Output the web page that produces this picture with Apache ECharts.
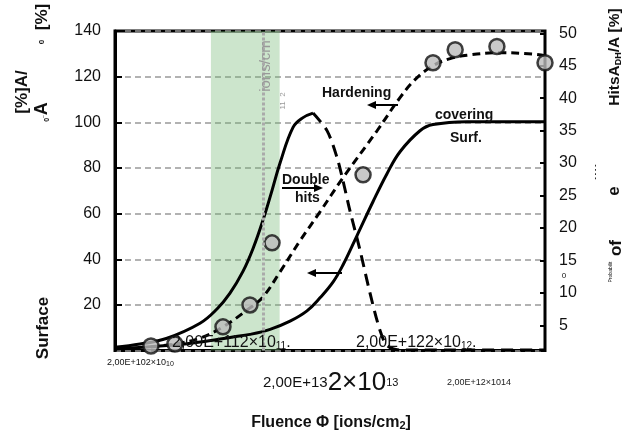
<!DOCTYPE html>
<html><head><meta charset="utf-8">
<script src="https://cdn.jsdelivr.net/npm/echarts@6/dist/echarts.min.js"></script>
<style>html,body{margin:0;padding:0;background:#fff}#c{width:631px;height:438px}</style>
</head><body><div id="c"></div>
<script>
// ---- data ----
const fluenceRange = [1e10, 1e14];
const leftAxisRange = [0, 140, 20];
const rightAxisRange = [0, 50, 5];
// Surface covering [%] (left axis)
const surfaceCovering = [[1e10,0.7],[3.05e10,2.2],[6.18e10,3.8],[1.25e11,6.0],[1.8e11,7.1],[2.77e11,9.3],[4.25e11,12.9],[6.11e11,17.4],[8.07e11,23.1],[1.07e12,30.1],[1.32e12,37.5],[1.78e12,50.3],[2.51e12,65.2],[3.39e12,77.5],[4.48e12,87.1],[6.87e12,96.3],[9.08e12,99.0],[1.88e13,100.3],[1e14,100.3]];
// Hardening A/A0 [%] (left axis) model curve
const hardeningCurve = [[2.16e10,1.6],[3.61e10,2.9],[6.18e10,5.5],[1.01e11,10.4],[1.8e11,18.7],[2.38e11,23.5],[3.43e11,34.5],[5.26e11,48.1],[8.07e11,60.8],[1.32e12,75.7],[2.74e12,96.3],[4.48e12,110.8],[6.18e12,118.7],[9.08e12,124.8],[1.31e13,127.9],[1.88e13,129.4],[3.81e13,130.5],[7.73e13,129.9],[1e14,129.2]];
// Hardening measured points
const hardeningPoints = [[2.16e10,2.0],[3.61e10,2.9],[1.01e11,10.4],[1.8e11,20.0],[2.89e11,47.2],[2.03e12,77.0],[9.08e12,126.1],[1.46e13,131.8],[3.57e13,133.2],[1e14,126.1]];
// Probability of double hits A_DH/A [%] (right axis)
const doubleHitsRise = [[1e10,1.6],[1.71e10,2.1],[3.05e10,3.0],[6.18e10,5.3],[8.89e10,7.5],[1.17e11,9.9],[1.55e11,13.3],[1.92e11,16.8],[2.38e11,21.2],[2.89e11,25.8],[3.43e11,30.0],[4.53e11,35.5],[5.61e11,37.0],[6.95e11,37.7]];
const doubleHitsFall = [[6.95e11,37.7],[9.38e11,35.0],[1.16e12,30.9],[1.32e12,27.3],[1.53e12,22.7],[1.9e12,16.6],[2.36e12,9.9],[2.92e12,4.2],[3.39e12,1.9],[4.48e12,1.2],[1e14,1.2]];
const bandRange = [7.8e10, 3.4e11];
const markerFluence = [2.4e11];

// ---- chart ----
const F = '"Liberation Sans", Arial, sans-serif';
function T(x, y, text, size, opt) {
  opt = opt || {};
  return {type:'text', x:x, y:y, rotation: opt.rot || 0, z: 100,
    style:{text:text, font:(opt.bold?'bold ':'') + size + 'px ' + F, fill: opt.color || '#111',
      textAlign: opt.align || 'center', textVerticalAlign: 'middle', rich: opt.rich}};
}
function arrow(x1, y, x2) {
  const d = x2 > x1 ? -1 : 1;
  return [
    {type:'line', z:100, shape:{x1:x1, y1:y, x2:x2 + d*6, y2:y}, style:{stroke:'#000', lineWidth:2}},
    {type:'polygon', z:100, shape:{points:[[x2,y],[x2+d*9,y-4],[x2+d*9,y+4]]}, style:{fill:'#000'}}
  ];
}
const R = Math.PI / 2;
const chart = echarts.init(document.getElementById('c'));
chart.setOption({
  animation:false,
  backgroundColor:'#fff',
  grid:[
    {left:115, right:86, top:31, bottom:87.4, show:true, borderColor:'#000', borderWidth:3, backgroundColor:'transparent'},
    {left:115, right:86, top:33.3, bottom:80.3, show:false}
  ],
  xAxis:[
    {type:'log', gridIndex:0, min:fluenceRange[0], max:fluenceRange[1], axisLine:{show:false}, axisTick:{show:false}, axisLabel:{show:false}, splitLine:{show:false}},
    {type:'log', gridIndex:1, min:fluenceRange[0], max:fluenceRange[1], axisLine:{show:false}, axisTick:{show:false}, axisLabel:{show:false}, splitLine:{show:false}}
  ],
  yAxis:[
    {type:'value', gridIndex:0, position:'left', min:leftAxisRange[0], max:leftAxisRange[1], interval:leftAxisRange[2],
      axisLine:{show:true, lineStyle:{color:'#000', width:3}},
      axisTick:{show:true, inside:true, length:7, lineStyle:{color:'#000', width:2}},
      axisLabel:{showMinLabel:false, fontSize:16, color:'#111', fontFamily:F, margin:14},
      splitLine:{show:true, lineStyle:{color:'#999', width:1.5, type:[6,4]}}},
    {type:'value', gridIndex:1, position:'right', min:rightAxisRange[0], max:rightAxisRange[1], interval:rightAxisRange[2],
      axisLine:{show:false},
      axisTick:{show:true, inside:true, length:5, lineStyle:{color:'#000', width:2}},
      axisLabel:{showMinLabel:false, fontSize:16, color:'#111', fontFamily:F, margin:14},
      splitLine:{show:false}}
  ],
  series:[
    {name:'Surface covering', type:'line', xAxisIndex:0, yAxisIndex:0, data:surfaceCovering, smooth:0.4, symbol:'none', z:2,
      lineStyle:{color:'#000', width:3}},
    {name:'Hardening', type:'line', xAxisIndex:0, yAxisIndex:0, data:hardeningCurve, smooth:0.4, symbol:'none', z:2,
      lineStyle:{color:'#000', width:3, type:[8,5]}},
    {name:'Hardening points', type:'scatter', xAxisIndex:0, yAxisIndex:0, data:hardeningPoints, symbolSize:15, clip:false, z:3,
      itemStyle:{color:'#bcbcbc', borderColor:'#111', borderWidth:2.5}},
    {name:'Double hits', type:'line', xAxisIndex:1, yAxisIndex:1, data:doubleHitsRise, smooth:0.4, symbol:'none', z:2,
      lineStyle:{color:'#000', width:3}},
    {name:'Double hits fall', type:'line', xAxisIndex:1, yAxisIndex:1, data:doubleHitsFall, smooth:0.3, symbol:'none', z:2,
      lineStyle:{color:'#000', width:3, type:[12,7]}},
    {name:'band', type:'line', xAxisIndex:0, yAxisIndex:0, data:[], z:5,
      markArea:{silent:true, itemStyle:{color:'rgba(110,180,110,0.35)'}, data:[[{xAxis:bandRange[0], yAxis:leftAxisRange[0]},{xAxis:bandRange[1], yAxis:leftAxisRange[1]}]]}},
    {name:'marker', type:'line', xAxisIndex:0, yAxisIndex:0, data:[], z:6,
      markLine:{silent:true, symbol:'none', label:{show:false}, lineStyle:{color:'#aaa', width:3, type:[3,2]},
        data:[{xAxis:markerFluence[0]}]}}
  ],
  graphic:[
    // left axis title pieces
    T(22, 92, '[%]A/', 17, {bold:true, rot:R}),
    T(42, 112, '{s|0}{u|_}{b|A}', 17, {rot:R, rich:{s:{fontSize:7, fontFamily:F, fontWeight:'bold', verticalAlign:'bottom'}, u:{fontSize:5, fontFamily:F}, b:{fontSize:18, fontFamily:F, fontWeight:'bold'}}}),
    T(42, 24, '{s|0}  {b|[%]}', 17, {rot:R, rich:{s:{fontSize:8, fontFamily:F, fontWeight:'bold'}, b:{fontSize:17, fontFamily:F, fontWeight:'bold'}}}),
    T(43, 328, 'Surface', 17, {bold:true, rot:R}),
    // right axis title pieces
    T(615, 57, '{b|Hits}{b|A}{s|DH}{b|/A [%]}', 15, {rot:R, rich:{b:{fontSize:15.5, fontFamily:F, fontWeight:'bold'}, s:{fontSize:9, fontFamily:F, fontWeight:'bold', verticalAlign:'bottom'}}}),
    T(614, 191, 'e', 17, {bold:true, rot:R}),
    T(616, 248, 'of', 17, {bold:true, rot:R}),
    T(611, 272, 'Probabilit', 5, {rot:R}),
    T(564, 276, '0', 8, {}),
    T(595, 172, '- - - -', 7, {bold:true, rot:R}),
    // x-axis pseudo-labels
    T(107, 363, '{a|2,00E+102×10}{s|10}', 9, {align:'left', rich:{a:{fontSize:9, fontFamily:F, color:'#222'}, s:{fontSize:7, fontFamily:F, color:'#222', verticalAlign:'bottom'}}}),
    T(172, 343, '{a|2,00E+112×10}{s|11}{a|.}', 16, {align:'left', rich:{a:{fontSize:16, fontFamily:F, color:'#222'}, s:{fontSize:10, fontFamily:F, color:'#222', verticalAlign:'bottom'}}}),
    T(356, 343, '{a|2,00E+122×10}{s|12}{a|.}', 16, {align:'left', rich:{a:{fontSize:16, fontFamily:F, color:'#222'}, s:{fontSize:10, fontFamily:F, color:'#222', verticalAlign:'bottom'}}}),
    T(263, 383, '{a|2,00E+13}{b|2×10}{s|13}', 15, {align:'left', rich:{a:{fontSize:15, fontFamily:F, color:'#111'}, b:{fontSize:26, fontFamily:F, color:'#111'}, s:{fontSize:11, fontFamily:F, color:'#111'}}}),
    T(447, 383, '2,00E+12×1014', 9, {align:'left', color:'#222'}),
    T(331, 423, '{b|Fluence Φ [ions/cm}{s|2}{b|]}', 16, {rich:{b:{fontSize:16, fontFamily:F, fontWeight:'bold', color:'#111'}, s:{fontSize:11, fontFamily:F, fontWeight:'bold', color:'#111', verticalAlign:'bottom'}}}),
    // marker text
    T(266, 66, 'ions/cm', 15, {rot:R, color:'#999'}),
    T(283, 101, '11  2', 8, {rot:R, color:'#999'}),
    // annotations
    T(322, 93, 'Hardening', 14, {bold:true, align:'left'}),
    T(282, 180, 'Double', 14, {bold:true, align:'left'}),
    T(295, 198, 'hits', 14, {bold:true, align:'left'}),
    T(435, 115, 'covering', 14, {bold:true, align:'left'}),
    T(450, 138, 'Surf.', 14, {bold:true, align:'left'})
  ].concat(arrow(398, 105, 367), arrow(282, 188, 323), arrow(342, 273, 307))
});
</script></body></html>
